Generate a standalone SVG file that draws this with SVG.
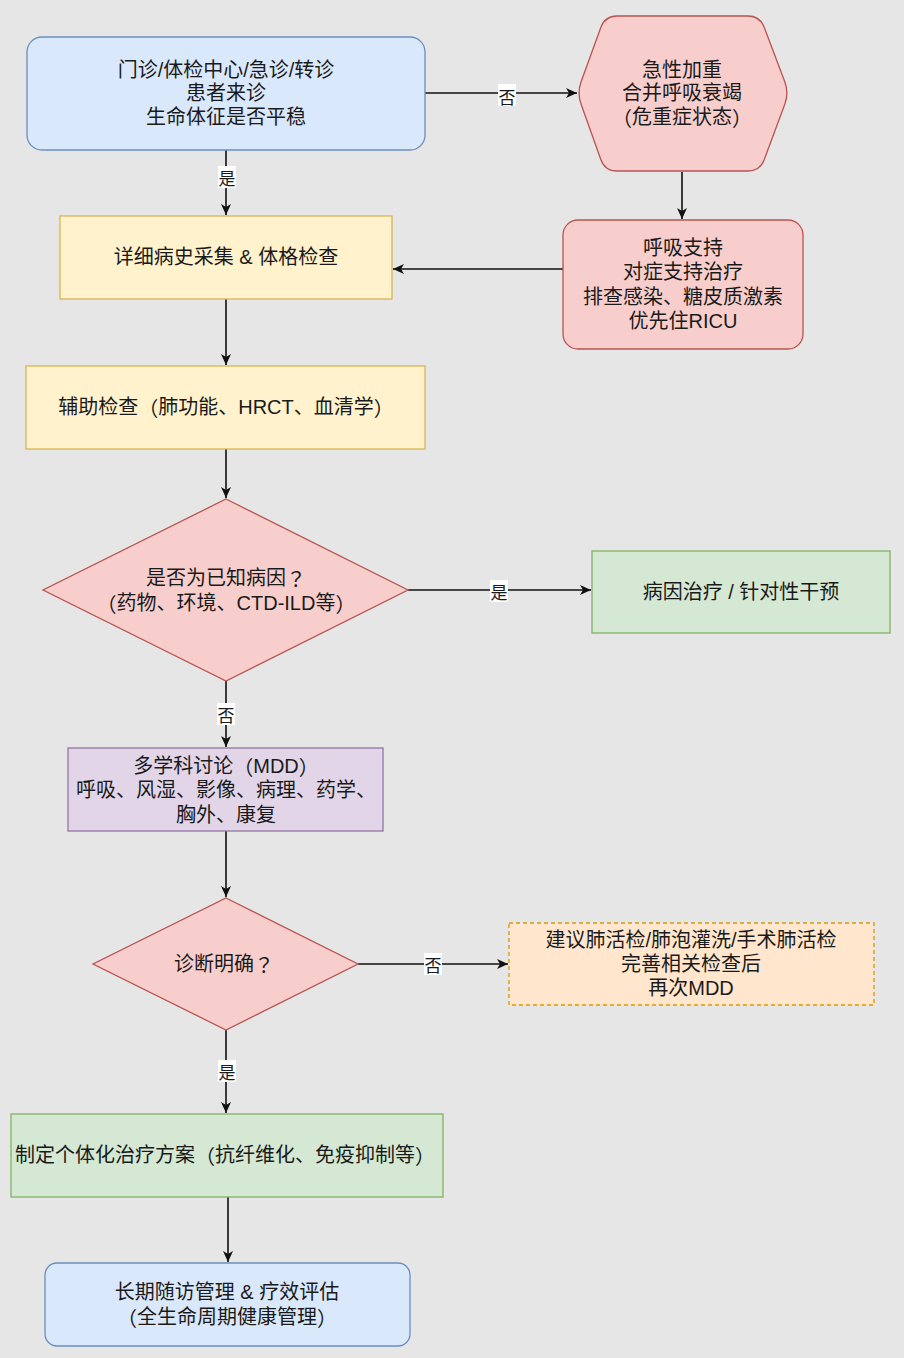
<svg xmlns="http://www.w3.org/2000/svg" width="904" height="1358" viewBox="0 0 904 1358">
<defs>
<style>
.t{font-family:"Liberation Sans","Noto Sans CJK SC",sans-serif;font-size:20px;fill:#1a1a1a;text-anchor:middle;dominant-baseline:central}
.p{font-family:"Noto Sans CJK TC",sans-serif}
.lbl{font-family:"Noto Sans CJK SC",sans-serif;font-size:17px;fill:#1a1a1a;text-anchor:middle;dominant-baseline:central}
.c{stroke:#111;stroke-width:1.6;fill:none;marker-end:url(#arr)}
.blue{fill:#dae8fc;stroke:#6c8ebf;stroke-width:1.3}
.red{fill:#f8cecc;stroke:#b85450;stroke-width:1.3}
.yel{fill:#fff2cc;stroke:#d6b656;stroke-width:1.3}
.grn{fill:#d5e8d4;stroke:#82b366;stroke-width:1.3}
.pur{fill:#e1d5e7;stroke:#9673a6;stroke-width:1.3}
.org{fill:#ffe6cc;stroke:#d79b00;stroke-width:1.3;stroke-dasharray:4 3}
.lb{fill:#ffffff}
</style>
<marker id="arr" markerWidth="12" markerHeight="10" refX="11" refY="5" orient="auto" markerUnits="userSpaceOnUse">
<path d="M0,0 L11,5 L0,10 L3,5 Z" fill="#111"/>
</marker>
</defs>
<rect x="0" y="0" width="904" height="1358" fill="#e6e6e6"/>

<g id="connectors">
<line class="c" x1="425" y1="93" x2="577" y2="93"/>
<line class="c" x1="226" y1="150" x2="226" y2="215"/>
<line class="c" x1="682" y1="172" x2="682" y2="219"/>
<line class="c" x1="563" y1="269" x2="393" y2="269"/>
<line class="c" x1="226" y1="299" x2="226" y2="365"/>
<line class="c" x1="226" y1="449" x2="226" y2="498"/>
<line class="c" x1="408" y1="590" x2="591" y2="590"/>
<line class="c" x1="226" y1="681" x2="226" y2="747"/>
<line class="c" x1="226" y1="831" x2="226" y2="897"/>
<line class="c" x1="358" y1="964" x2="508" y2="964"/>
<line class="c" x1="226" y1="1030" x2="226" y2="1113"/>
<line class="c" x1="228" y1="1197" x2="228" y2="1262"/>
<rect class="lb" x="498" y="84" width="18" height="22"/>
<text class="lbl" x="507" y="96">否</text>
<rect class="lb" x="218" y="166" width="18" height="22"/>
<text class="lbl" x="227" y="177">是</text>
<rect class="lb" x="490" y="580" width="18" height="22"/>
<text class="lbl" x="499" y="591">是</text>
<rect class="lb" x="217" y="703" width="18" height="22"/>
<text class="lbl" x="226" y="714">否</text>
<rect class="lb" x="424" y="953" width="18" height="22"/>
<text class="lbl" x="433" y="964">否</text>
<rect class="lb" x="218" y="1060" width="18" height="22"/>
<text class="lbl" x="227" y="1071">是</text>
</g>

<g id="n1">
<rect class="blue" x="27" y="37" width="398" height="113" rx="15"/>
<text class="t" x="226" y="70">门诊/体检中心/急诊/转诊</text>
<text class="t" x="226" y="93">患者来诊</text>
<text class="t" x="226" y="117">生命体征是否平稳</text>
</g>

<g id="n2">
<path class="red" d="M617,16 L748,16 Q760,16 764.2,27.2 L784.8,81.8 Q789,93 784.8,104.2 L764.2,159.8 Q760,171 748,171 L617,171 Q605,171 600.9,159.7 L581.1,104.3 Q577,93 581.1,81.7 L600.9,27.3 Q605,16 617,16 Z"/>
<text class="t" x="682" y="70">急性加重</text>
<text class="t" x="682" y="93">合并呼吸衰竭</text>
<text class="t" x="682" y="117"><tspan class="p">（</tspan>危重症状态<tspan class="p">）</tspan></text>
</g>

<g id="n3">
<rect class="yel" x="60" y="216" width="332" height="83"/>
<text class="t" x="226" y="257">详细病史采集 &amp; 体格检查</text>
</g>

<g id="n4">
<rect class="red" x="563" y="220" width="240" height="129" rx="15"/>
<text class="t" x="683" y="248">呼吸支持</text>
<text class="t" x="683" y="272">对症支持治疗</text>
<text class="t" x="683" y="297">排查感染、糖皮质激素</text>
<text class="t" x="683" y="321">优先住RICU</text>
</g>

<g id="n5">
<rect class="yel" x="26" y="366" width="399" height="83"/>
<text class="t" x="226" y="407">辅助检查<tspan class="p">（</tspan>肺功能、HRCT、血清学<tspan class="p">）</tspan></text>
</g>

<g id="n6">
<path class="red" d="M226,499 L408,590 L226,681 L43,590 Z"/>
<text class="t" x="226" y="578">是否为已知病因<tspan class="p">？</tspan></text>
<text class="t" x="226" y="603"><tspan class="p">（</tspan>药物、环境、CTD-ILD等<tspan class="p">）</tspan></text>
</g>

<g id="n7">
<rect class="grn" x="592" y="551" width="298" height="82"/>
<text class="t" x="741" y="592">病因治疗 / 针对性干预</text>
</g>

<g id="n8">
<rect class="pur" x="68" y="748" width="315" height="83"/>
<text class="t" x="226" y="766">多学科讨论<tspan class="p">（</tspan>MDD<tspan class="p">）</tspan></text>
<text class="t" x="226" y="790">呼吸、风湿、影像、病理、药学、</text>
<text class="t" x="226" y="815">胸外、康复</text>
</g>

<g id="n9">
<path class="red" d="M226,898 L358,964 L226,1030 L93,964 Z"/>
<text class="t" x="224" y="964">诊断明确<tspan class="p">？</tspan></text>
</g>

<g id="n10">
<rect class="org" x="509" y="923" width="365" height="82"/>
<text class="t" x="691" y="940">建议肺活检/肺泡灌洗/手术肺活检</text>
<text class="t" x="691" y="964">完善相关检查后</text>
<text class="t" x="691" y="988">再次MDD</text>
</g>

<g id="n11">
<rect class="grn" x="11" y="1114" width="432" height="83"/>
<text class="t" x="225" y="1155">制定个体化治疗方案<tspan class="p">（</tspan>抗纤维化、免疫抑制等<tspan class="p">）</tspan></text>
</g>

<g id="n12">
<rect class="blue" x="45" y="1263" width="365" height="83" rx="12"/>
<text class="t" x="227" y="1292">长期随访管理 &amp; 疗效评估</text>
<text class="t" x="227" y="1317"><tspan class="p">（</tspan>全生命周期健康管理<tspan class="p">）</tspan></text>
</g>
</svg>
